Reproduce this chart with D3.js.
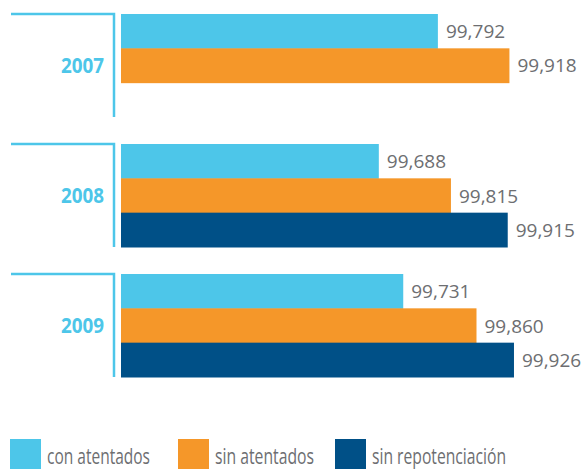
<!DOCTYPE html>
<html>
<head>
<meta charset="utf-8">
<script src="https://cdn.jsdelivr.net/npm/d3@7"></script>
<style>
  body { margin: 0; background: #fff; }
  text { font-family: "Open Sans", "DejaVu Sans", sans-serif; }
</style>
</head>
<body>
<div id="chart"></div>
<script>
const years = ['2007', '2008', '2009'];
const seriesNames = ['con atentados', 'sin atentados', 'sin repotenciación'];
const conAtentados = [99.792, 99.688, 99.731];
const sinAtentados = [99.918, 99.815, 99.860];
const sinRepotenciacion = [null, 99.915, 99.926];

const colors = ['#4dc6e9', '#f59729', '#005087'];

let width = 584,
    height = 469;

const rows = [];
years.forEach(function(y, i) {
    [conAtentados, sinAtentados, sinRepotenciacion].forEach(function(arr, j) {
        if (arr[i] != null) rows.push({ year: y, series: seriesNames[j], value: arr[i] });
    });
});

const svg = d3.select('#chart')
    .append('svg')
        .attr('width', width)
        .attr('height', height);

let xScale = d3.scaleLinear()
    .domain([99.234, 100])
    .range([121, 556]);

let yScale = d3.scaleBand()
    .domain(years)
    .range([14, 377])
    .paddingInner(0.2077);

let inner = d3.scaleBand()
    .domain(seriesNames)
    .range([0, yScale.bandwidth()]);

let color = d3.scaleOrdinal().domain(seriesNames).range(colors);

const fmt = d3.formatLocale({ decimal: ',', thousands: '.', grouping: [3], currency: ['', ''] }).format('.3f');

// brackets + year labels
const groups = svg.selectAll('g.year').data(years)
    .enter().append('g')
        .attr('class', 'year')
        .attr('transform', function(d) { return 'translate(0,' + yScale(d) + ')'; });

groups.append('path')
    .attr('d', 'M11,0 H114 V' + yScale.bandwidth())
    .attr('fill', 'none')
    .attr('stroke', '#4dc6e9')
    .attr('stroke-width', 2.5);

groups.append('text')
    .attr('x', 104)
    .attr('y', yScale.bandwidth() / 2 + 8)
    .attr('text-anchor', 'end')
    .attr('font-size', 22)
    .attr('font-weight', 700)
    .attr('textLength', 43)
    .attr('lengthAdjust', 'spacingAndGlyphs')
    .style('fill', '#4dc6e9')
    .text(function(d) { return d; });

// bars
svg.selectAll('rect.bar').data(rows)
    .enter().append('rect')
        .attr('class', 'bar')
        .attr('x', xScale.range()[0])
        .attr('y', function(d) { return yScale(d.year) + inner(d.series); })
        .attr('width', function(d) { return xScale(d.value) - xScale.range()[0]; })
        .attr('height', inner.bandwidth() + 0.5)
        .style('fill', function(d) { return color(d.series); });

// value labels
svg.selectAll('text.val').data(rows)
    .enter().append('text')
        .attr('class', 'val')
        .attr('x', function(d) { return xScale(d.value) + 8; })
        .attr('y', function(d) { return yScale(d.year) + inner(d.series) + inner.bandwidth() / 2 + 7; })
        .attr('font-size', 19)
        .style('fill', '#6d6e71')
        .text(function(d) { return fmt(d.value); });

// legend
const legendX = [10, 178, 335];
const legendW = [103, 99, 134];
const legend = svg.selectAll('g.legend').data(seriesNames)
    .enter().append('g')
        .attr('class', 'legend')
        .attr('transform', function(d, i) { return 'translate(' + legendX[i] + ',439)'; });

legend.append('rect')
    .attr('width', 31)
    .attr('height', 30)
    .style('fill', function(d) { return color(d); });

legend.append('text')
    .attr('x', 37)
    .attr('y', 25)
    .attr('font-size', 21)
    .attr('textLength', function(d, i) { return legendW[i]; })
    .attr('lengthAdjust', 'spacingAndGlyphs')
    .style('fill', '#6d6e71')
    .text(function(d) { return d; });
</script>
</body>
</html>
